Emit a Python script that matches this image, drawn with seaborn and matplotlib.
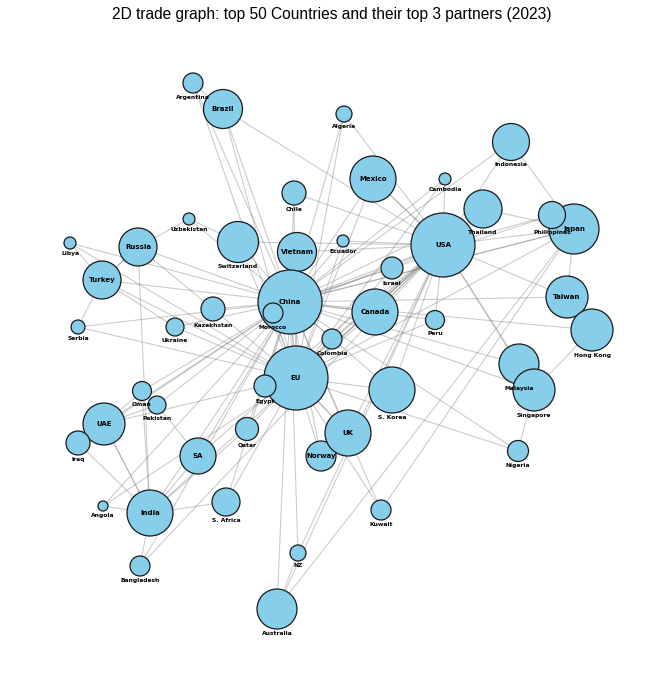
import numpy as np
import pandas as pd
import seaborn as sns
import matplotlib.pyplot as plt

# Countries, layout position (from the picture) and relative node weight
countries = ['Argentina', 'Brazil', 'Algeria', 'Indonesia', 'Mexico', 'Cambodia', 'Chile',
             'Uzbekistan', 'Thailand', 'Japan', 'Philippines', 'Switzerland', 'Ecuador', 'USA',
             'Vietnam', 'Libya', 'Russia', 'Israel', 'Turkey', 'Taiwan', 'China', 'Kazakhstan',
             'Canada', 'Morocco', 'Peru', 'Serbia', 'Ukraine', 'Hong Kong', 'Colombia', 'Malaysia',
             'EU', 'Oman', 'Singapore', 'Egypt', 'S. Korea', 'Pakistan', 'UAE', 'Qatar', 'Norway',
             'UK', 'Iraq', 'SA', 'Nigeria', 'Angola', 'India', 'S. Africa', 'Kuwait', 'NZ',
             'Bangladesh', 'Australia']
pos_x = [193, 223, 344, 511, 373, 445, 294, 189, 483, 574, 552, 238, 343, 443, 297, 70, 138, 392,
         102, 567, 290, 213, 375, 273, 435, 78, 175, 592, 332, 519, 296, 142, 534, 265, 392, 157,
         104, 247, 321, 348, 78, 198, 518, 103, 150, 226, 381, 298, 140, 277]
pos_y = [83, 109, 114, 142, 179, 179, 193, 219, 209, 229, 215, 242, 241, 245, 252, 243, 247, 268,
         280, 297, 302, 309, 312, 313, 320, 327, 327, 330, 339, 364, 378, 391, 390, 386, 390, 405,
         424, 429, 456, 433, 443, 456, 451, 506, 513, 502, 510, 553, 566, 609]
node_weight = [600, 2280, 384, 2054, 3174, 216, 864, 216, 2166, 3750, 1094, 2522, 216, 6144, 2282,
               216, 2166, 726, 2166, 2646, 6144, 864, 3174, 600, 541, 294, 486, 2646, 600, 2400,
               6144, 541, 2646, 726, 3174, 486, 2646, 794, 1350, 3174, 864, 1944, 662, 150, 3174,
               1176, 600, 384, 600, 2400]

# Top 3 partners of each country
partners = {
    'Argentina': ['Brazil', 'China', 'EU'],
    'Brazil': ['China', 'USA', 'EU'],
    'Algeria': ['EU', 'China', 'USA'],
    'Indonesia': ['China', 'USA', 'Japan'],
    'Mexico': ['USA', 'China', 'EU'],
    'Cambodia': ['USA', 'China', 'EU'],
    'Chile': ['China', 'USA', 'EU'],
    'Uzbekistan': ['Russia', 'China', 'Switzerland'],
    'Thailand': ['USA', 'China', 'Japan'],
    'Japan': ['China', 'USA', 'EU'],
    'Philippines': ['China', 'USA', 'Japan'],
    'Switzerland': ['EU', 'USA', 'China'],
    'Ecuador': ['USA', 'China', 'EU'],
    'USA': ['EU', 'Mexico', 'Canada'],
    'Vietnam': ['China', 'USA', 'EU'],
    'Libya': ['EU', 'China', 'Turkey'],
    'Russia': ['China', 'India', 'Turkey'],
    'Israel': ['USA', 'EU', 'China'],
    'Turkey': ['EU', 'Russia', 'China'],
    'Taiwan': ['China', 'USA', 'Japan'],
    'China': ['USA', 'EU', 'Japan'],
    'Kazakhstan': ['EU', 'China', 'Russia'],
    'Canada': ['USA', 'China', 'EU'],
    'Morocco': ['EU', 'China', 'USA'],
    'Peru': ['China', 'USA', 'EU'],
    'Serbia': ['EU', 'China', 'Turkey'],
    'Ukraine': ['EU', 'China', 'Turkey'],
    'Hong Kong': ['China', 'Taiwan', 'Singapore'],
    'Colombia': ['USA', 'China', 'EU'],
    'Malaysia': ['China', 'Singapore', 'USA'],
    'EU': ['USA', 'China', 'UK'],
    'Oman': ['China', 'UAE', 'India'],
    'Singapore': ['China', 'Malaysia', 'USA'],
    'Egypt': ['EU', 'China', 'USA'],
    'S. Korea': ['China', 'USA', 'EU'],
    'Pakistan': ['China', 'UAE', 'SA'],
    'UAE': ['China', 'India', 'EU'],
    'Qatar': ['China', 'India', 'EU'],
    'Norway': ['EU', 'UK', 'China'],
    'UK': ['EU', 'USA', 'China'],
    'Iraq': ['China', 'India', 'UAE'],
    'SA': ['China', 'India', 'USA'],
    'Nigeria': ['EU', 'China', 'Singapore'],
    'Angola': ['China', 'India', 'EU'],
    'India': ['USA', 'China', 'UAE'],
    'S. Africa': ['China', 'EU', 'India'],
    'Kuwait': ['China', 'EU', 'Japan'],
    'NZ': ['China', 'Australia', 'USA'],
    'Bangladesh': ['China', 'India', 'USA'],
    'Australia': ['China', 'USA', 'Japan'],
}

# names written inside their circle, the rest go underneath
inside = {'China', 'USA', 'EU', 'Japan', 'Mexico', 'Canada', 'UK', 'Vietnam', 'Russia',
          'Turkey', 'Brazil', 'Taiwan', 'UAE', 'SA', 'India', 'Norway'}

nodes = pd.DataFrame({'country': countries, 'x': pos_x, 'y': pos_y, 'weight': node_weight})
xy = nodes.set_index('country')[['x', 'y']]

rows = []
k = 0
for src, dsts in partners.items():
    for dst in dsts:
        rows.append([k, xy.loc[src, 'x'], xy.loc[src, 'y']])
        rows.append([k, xy.loc[dst, 'x'], xy.loc[dst, 'y']])
        k += 1
edges = pd.DataFrame(rows, columns=['edge', 'x', 'y'])

sns.set_style('white')
plt.rcParams['font.family'] = ['DejaVu Sans']

fig = plt.figure(figsize=(6.63, 6.8), dpi=100)
ax = fig.add_axes([0, 0, 1, 1])

sns.lineplot(data=edges, x='x', y='y', units='edge', estimator=None, sort=False,
             color='gray', alpha=0.4, linewidth=0.8, ax=ax, legend=False)

max_w = max(node_weight)
max_area = 2123
sns.scatterplot(data=nodes, x='x', y='y', size='weight', sizes=(0, max_area),
                size_norm=(0, max_w), color='skyblue', edgecolor='#1a1a1a',
                linewidth=0.9, alpha=1, ax=ax, legend=False, zorder=3)

for c, x, y, w in zip(countries, pos_x, pos_y, node_weight):
    if c in inside:
        ax.annotate(c, (x, y), ha='center', va='center', fontsize=5, fontweight='bold',
                    color='black', zorder=4)
    else:
        r_pt = np.sqrt(w / max_w * max_area) / 2
        ax.annotate(c, (x, y), xytext=(0, -(r_pt + 3)), textcoords='offset points',
                    ha='center', va='center', fontsize=4.3, fontweight='bold',
                    color='black', zorder=4)

ax.set_xlim(0, 663)
ax.set_ylim(680, 0)
ax.axis('off')

fig.text(0.5, 1 - 14 / 680, '2D trade graph: top 50 Countries and their top 3 partners (2023)',
         ha='center', va='center', fontsize=11.2, color='black',
         family=['Liberation Sans', 'DejaVu Sans'])

fig.savefig('out.png', dpi=100)
